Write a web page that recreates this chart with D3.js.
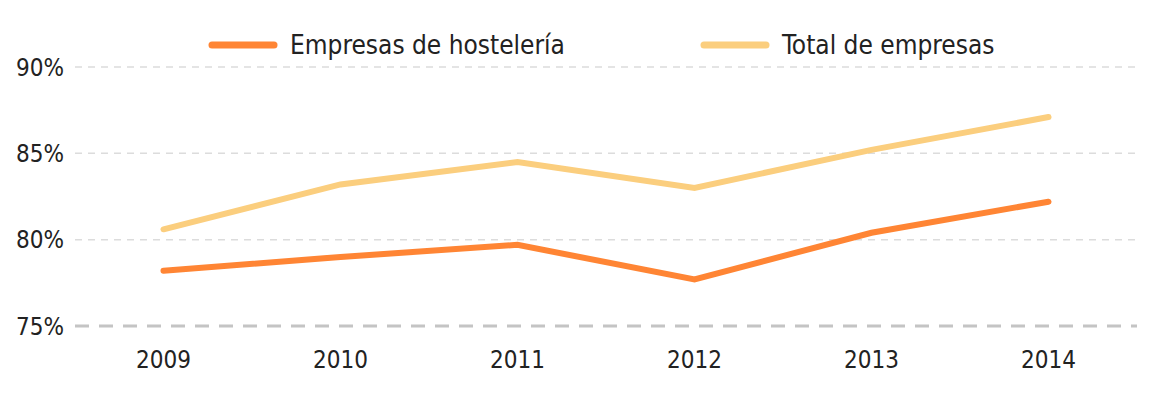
<!DOCTYPE html>
<html>
<head>
<meta charset="utf-8">
<script src="https://cdn.jsdelivr.net/npm/d3@7"></script>
<style>
  body { margin: 0; background: #fff; }
  svg text { font-family: "DejaVu Sans Condensed", "DejaVu Sans", sans-serif; fill: #222; }
</style>
</head>
<body>
<svg id="chart" width="1156" height="397"></svg>
<script>
// data
var years = ["2009", "2010", "2011", "2012", "2013", "2014"];
var hosteleria = [78.2, 79.0, 79.7, 77.7, 80.4, 82.2];
var totalEmpresas = [80.6, 83.2, 84.5, 83.0, 85.2, 87.1];
var yTicks = [75, 80, 85, 90];
var seriesNames = ["Empresas de hostelería", "Total de empresas"];
var seriesColors = ["#ff8534", "#fbce7e"];

var svg = d3.select("#chart");
var plotLeft = 75, plotRight = 1137, plotTop = 67, plotBottom = 326;

var x = d3.scalePoint().domain(years).range([plotLeft, plotRight]).padding(0.5);
var y = d3.scaleLinear().domain([75, 90]).range([plotBottom, plotTop]);

// gridlines
svg.append("g")
  .selectAll("line")
  .data(yTicks)
  .enter()
  .append("line")
  .attr("x1", plotLeft)
  .attr("x2", plotRight)
  .attr("y1", function (d) { return y(d); })
  .attr("y2", function (d) { return y(d); })
  .attr("stroke", function (d) { return d === 75 ? "#c4c4c4" : "#dcdcdc"; })
  .attr("stroke-width", function (d) { return d === 75 ? 3 : 1.5; })
  .attr("stroke-dasharray", function (d) { return d === 75 ? "14,10" : "7,6"; });

// y labels
svg.append("g")
  .selectAll("text")
  .data(yTicks)
  .enter()
  .append("text")
  .attr("x", 64)
  .attr("y", function (d) { return y(d); })
  .attr("dy", "0.36em")
  .attr("text-anchor", "end")
  .style("font-size", "24px")
  .text(function (d) { return d + "%"; });

// x labels
svg.append("g")
  .selectAll("text")
  .data(years)
  .enter()
  .append("text")
  .attr("x", function (d) { return x(d); })
  .attr("y", 359)
  .attr("dy", "0.36em")
  .attr("text-anchor", "middle")
  .style("font-size", "24px")
  .text(function (d) { return d; });

// lines
var line = d3.line()
  .x(function (d, i) { return x(years[i]); })
  .y(function (d) { return y(d); });

[totalEmpresas, hosteleria].forEach(function (vals, k) {
  svg.append("path")
    .datum(vals)
    .attr("d", line)
    .attr("fill", "none")
    .attr("stroke", k === 0 ? seriesColors[1] : seriesColors[0])
    .attr("stroke-width", 6)
    .attr("stroke-linecap", "round")
    .attr("stroke-linejoin", "miter");
});

// legend
var legendX = [212, 704];
seriesNames.forEach(function (name, i) {
  var g = svg.append("g").attr("transform", "translate(" + legendX[i] + ",45)");
  g.append("line")
    .attr("x1", 0).attr("x2", 62)
    .attr("stroke", seriesColors[i])
    .attr("stroke-width", 7)
    .attr("stroke-linecap", "round");
  g.append("text")
    .attr("x", 78)
    .attr("dy", "0.35em")
    .style("font-size", "26px")
    .text(name);
});
</script>
</body>
</html>
